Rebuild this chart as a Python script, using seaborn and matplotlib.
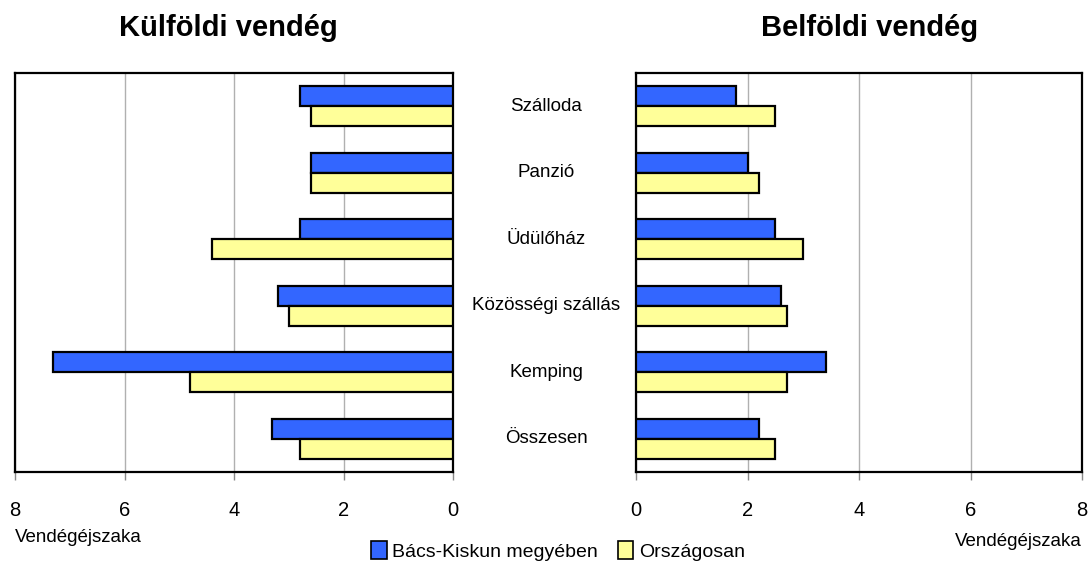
import matplotlib
matplotlib.use("Agg")
import matplotlib.pyplot as plt
import matplotlib.transforms as mtransforms
from matplotlib.patches import Patch
import seaborn as sns
import pandas as pd

categories = ["Szálloda", "Panzió", "Üdülőház", "Közösségi szállás", "Kemping", "Összesen"]
series_names = ["Bács-Kiskun megyében", "Országosan"]
kulfoldi_bk = [2.8, 2.6, 2.8, 3.2, 7.3, 3.3]
kulfoldi_orsz = [2.6, 2.6, 4.4, 3.0, 4.8, 2.8]
belfoldi_bk = [1.8, 2.0, 2.5, 2.6, 3.4, 2.2]
belfoldi_orsz = [2.5, 2.2, 3.0, 2.7, 2.7, 2.5]
xticks = [0, 2, 4, 6, 8]
colors = ["#3366FF", "#FFFF99"]

sns.set_theme(style="white")
FONT = ["Liberation Sans", "DejaVu Sans"]
plt.rcParams["font.family"] = FONT
plt.rcParams["text.color"] = "black"
plt.rcParams["xtick.color"] = "#888888"
plt.rcParams["xtick.labelcolor"] = "black"


def make_df(a, b):
    return pd.DataFrame({
        "cat": categories * 2,
        "val": list(a) + list(b),
        "series": [series_names[0]] * len(categories) + [series_names[1]] * len(categories),
    })


fig = plt.figure(figsize=(10.88, 5.62), dpi=100)
ax1 = fig.add_axes([15 / 1088, 1 - 472 / 562, 438 / 1088, 399 / 562])
ax2 = fig.add_axes([636 / 1088, 1 - 472 / 562, 446 / 1088, 399 / 562])

for ax, a, b in [(ax1, kulfoldi_bk, kulfoldi_orsz), (ax2, belfoldi_bk, belfoldi_orsz)]:
    sns.barplot(data=make_df(a, b), x="val", y="cat", hue="series", orient="h",
                palette=colors, saturation=1, width=0.6, gap=0, edgecolor="black",
                linewidth=1.6, ax=ax, legend=False, zorder=3)
    ax.set_xlim(0, 8)
    ax.set_xticks(xticks)
    ax.set_xticklabels([str(t) for t in xticks], fontsize=14.5, color="black")
    ax.grid(axis="x", color="#b0b0b0", linewidth=1, zorder=0)
    ax.grid(axis="y", visible=False)
    ax.set_yticks([])
    ax.set_xlabel("")
    ax.set_ylabel("")
    for s in ax.spines.values():
        s.set_color("black")
        s.set_linewidth(1.6)
    ax.tick_params(axis="x", bottom=True, direction="out", length=6, width=1,
                   color="#888888", pad=15)
    ax.set_ylim(5.5, -0.5)

ax1.set_xlim(8, 0)

fig.text(228 / 1088, 1 - 28 / 562, "Külföldi vendég", ha="center", va="center",
         fontsize=21, fontweight="bold")
fig.text(870 / 1088, 1 - 28 / 562, "Belföldi vendég", ha="center", va="center",
         fontsize=21, fontweight="bold")

trans = mtransforms.blended_transform_factory(fig.transFigure, ax1.transData)
for i, c in enumerate(categories):
    ax1.text(546 / 1088, i, c, transform=trans, ha="center", va="center",
             fontsize=13.5, clip_on=False)

fig.text(15 / 1088, 1 - 538 / 562, "Vendégéjszaka", ha="left", va="center", fontsize=13.5)
fig.text(1082 / 1088, 1 - 542 / 562, "Vendégéjszaka", ha="right", va="center", fontsize=13.5)

handles = [Patch(facecolor=colors[0], edgecolor="black", linewidth=1.2),
           Patch(facecolor=colors[1], edgecolor="black", linewidth=1.2)]
fig.legend(handles, series_names, loc="center", bbox_to_anchor=(558 / 1088, 1 - 551 / 562),
           ncol=2, frameon=False, fontsize=14, handlelength=0.8, handleheight=1.0,
           handletextpad=0.3, columnspacing=1.0, borderaxespad=0)

fig.savefig("out.png", dpi=100)
